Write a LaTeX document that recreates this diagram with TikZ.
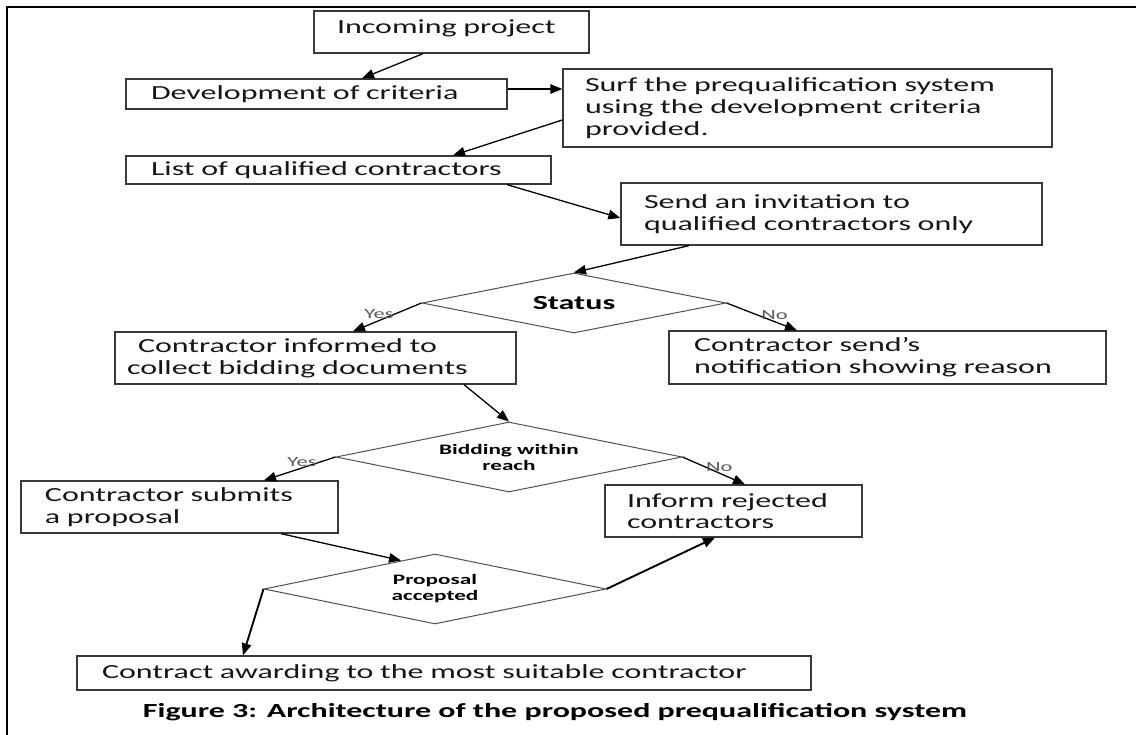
\documentclass[tikz,border=0pt]{standalone}
\usepackage{fontspec}
\setmainfont{Carlito}[FakeStretch=1.6]
\usepackage{tikz}
\usetikzlibrary{shapes.geometric, arrows.meta, positioning}
\definecolor{boxgray}{HTML}{3A3A3A}
\definecolor{diagray}{HTML}{505050}
\definecolor{labgray}{HTML}{5A5A5A}
\definecolor{txtgray}{HTML}{161616}
\newcommand{\boxfont}{\fontsize{20}{21.7}\selectfont}
\newcommand{\smallfont}{\fontsize{14.5}{16}\selectfont}
\newcommand{\ansfont}{\fontsize{14}{15}\selectfont}
\tikzset{>={Triangle[length=12pt,width=9.5pt]}}
\tikzset{
  stepbox/.style={draw=boxgray, line width=1.3pt, text=txtgray, align=left, inner ysep=0pt, font=\boxfont},
  decide/.style={diamond, draw=diagray, line width=1pt, inner sep=0pt, aspect=5, text=black, align=center},
  flow/.style={->, line width=1.3pt},
  bigflow/.style={->, line width=1.9pt},
  answer/.style={text=labgray, font=\ansfont, inner sep=1pt}
}
\begin{document}
\begin{tikzpicture}[x=1pt, y=-1pt]
\useasboundingbox (0,0) rectangle (1136,735);
\draw[line width=2.5pt] (1136,7) -- (7,7) -- (7,735);
\node[stepbox, minimum width=275pt, minimum height=42pt, inner xsep=23pt, text width=229pt, text depth=11pt] (inc) at (451.5,32) {Incoming project};
\node[stepbox, minimum width=381pt, minimum height=30pt, inner xsep=25pt, text width=331pt] (crit) at (316.5,94) {Development of criteria};
\node[stepbox, minimum width=489pt, minimum height=78pt, inner xsep=22pt, text width=445pt] (surf) at (807.5,108) {Surf the prequalification system\\using the development criteria\\provided.};
\node[stepbox, minimum width=425pt, minimum height=28pt, inner xsep=25pt, text width=375pt] (list) at (338.5,170) {List of qualified contractors};
\node[stepbox, minimum width=421pt, minimum height=62pt, inner xsep=23pt, text width=375pt] (invite) at (831.5,214) {Send an invitation to\\qualified contractors only};
\node[decide, minimum width=304pt, minimum height=60pt, font=\bfseries\boxfont] (status) at (574,303) {Status};
\node[stepbox, minimum width=401pt, minimum height=52pt, inner xsep=12pt, text width=377pt] (inform) at (315.5,358) {\hspace*{11pt}Contractor informed to\\collect bidding documents};
\node[stepbox, minimum width=437pt, minimum height=53pt, inner xsep=25pt, text width=387pt] (notify) at (887.5,357.5) {Contractor send’s\\notification showing reason};
\node[decide, minimum width=346pt, minimum height=70pt, font=\bfseries\smallfont] (bid) at (509,457) {Bidding within\\reach};
\node[stepbox, minimum width=317pt, minimum height=52pt, inner xsep=24pt, text width=269pt] (submit) at (179.5,507) {Contractor submits\\a proposal};
\node[stepbox, minimum width=257pt, minimum height=52pt, inner xsep=22pt, text width=213pt] (reject) at (733.5,511) {Inform rejected\\contractors};
\node[decide, minimum width=342pt, minimum height=70pt, font=\bfseries\smallfont] (accept) at (435,589) {Proposal\\accepted};
\node[stepbox, minimum width=734pt, minimum height=34pt, inner xsep=25pt, text width=684pt] (award) at (444,673) {Contract awarding to the most suitable contractor};
\node[font=\bfseries\boxfont, text=black] (caption) at (555,712) {Figure 3: Architecture of the proposed prequalification system};
\draw[flow] ([xshift=-28.5pt]inc.south) -- ([xshift=45.5pt]crit.north);
\draw[flow] ([yshift=5pt]crit.east) -- ([yshift=5pt]crit.east -| surf.west);
\draw[flow] ([yshift=-12pt]surf.west) -- ([xshift=114.5pt]list.north);
\draw[flow] ([xshift=168.5pt]list.south) -- ([yshift=-4pt]invite.west);
\draw[flow] ([xshift=-142.5pt]invite.south) -- (status.north);
\draw[flow] (status.west) -- node[answer, pos=0.62, above] {Yes} ([xshift=37.5pt]inform.north);
\draw[flow] (status.east) -- node[answer, pos=0.68, above] {No} ([xshift=-90.5pt]notify.north);
\draw[flow] ([xshift=148.5pt]inform.south) -- (bid.north);
\draw[flow] (bid.west) -- node[answer, pos=0.47, above] {Yes} ([xshift=84.5pt]submit.north);
\draw[flow] (bid.east) -- node[answer, pos=0.59, above] {No} ([xshift=11.5pt]reject.north);
\draw[flow] ([xshift=101.5pt]submit.south) -- ([xshift=-34pt,yshift=-7pt]accept.north);
\draw[bigflow] (accept.east) -- ([xshift=-18.5pt]reject.south);
\draw[bigflow] (accept.west) -- ([xshift=-201pt]award.north);
\end{tikzpicture}
\end{document}
